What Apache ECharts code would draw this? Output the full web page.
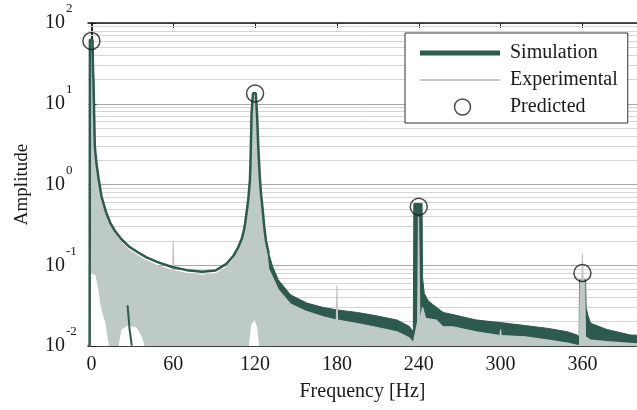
<!DOCTYPE html>
<html>
<head>
<meta charset="utf-8">
<script src="https://cdn.jsdelivr.net/npm/echarts@6/dist/echarts.min.js"></script>
<style>
html, body { margin: 0; padding: 0; background: #fff; }
#chart { width: 637px; height: 410px; }
</style>
</head>
<body>
<div id="chart"></div>
<script>
var xTicks = [0, 60, 120, 180, 240, 300, 360];
var minorDigits = [2, 3, 4, 5, 6, 7, 8, 9];
var decades = [0.01, 0.1, 1, 10];

// simulation, smooth part (0 Hz peak .. 120 Hz peak)
var simSmooth = [[-1.3, 0.0101], [-1.1, 62], [0.8, 62], [1.2, 25], [1.5, 19.6], [2, 7.6], [2.5, 2.94],
    [3.7, 1.83], [5.4, 1.14], [7.4, 0.71], [11, 0.44], [14, 0.33], [17, 0.27], [22, 0.21], [28, 0.168],
    [34, 0.145], [40, 0.126], [48, 0.11], [59, 0.095], [70, 0.087], [81, 0.083], [91, 0.086], [99, 0.104],
    [104, 0.13], [107.7, 0.168], [110.3, 0.215], [111.8, 0.27], [112.8, 0.34], [113.7, 0.44], [115.2, 0.7],
    [116.2, 1.14], [116.6, 1.8], [116.9, 2.94], [117.4, 7.6], [118.5, 13.5], [120.5, 13.5], [121.5, 7],
    [122.3, 3], [123.5, 1.2], [124.4, 0.75], [125.5, 0.5], [126.7, 0.3], [128, 0.2], [130, 0.14]];

// simulation, small drop near 28 Hz
var simLow = [[26.5, 0.032], [28, 0.016], [29.6, 0.0101]];

// simulation, noisy part: upper edge of the band
var simBand = [[128, 0.2], [130, 0.14], [133, 0.095], [137, 0.066], [146, 0.043], [158, 0.034], [170, 0.030],
    [180, 0.028], [195, 0.026], [207, 0.024], [224, 0.021], [233, 0.0175], [236, 0.015], [236.4, 0.58],
    [242.4, 0.58], [242.8, 0.07], [244, 0.045], [247, 0.036], [252, 0.031], [258, 0.026], [265, 0.0245],
    [282, 0.021], [300, 0.0195], [318, 0.0179], [335, 0.0165], [349, 0.015], [356, 0.0137], [357.6, 0.013],
    [357.9, 0.066], [362.3, 0.066], [362.7, 0.03], [364, 0.024], [366, 0.0191], [378, 0.016], [395, 0.0137],
    [402, 0.0135]];

// experimental spectrum (upper envelope)
var experimental = [[-1.0, 0.0101], [-0.9, 55], [0.6, 55], [1.2, 22], [1.5, 17], [2, 6.8], [2.5, 2.6],
    [3.7, 1.65], [5.4, 1.02], [7.4, 0.64], [11, 0.4], [14, 0.3], [17, 0.245], [22, 0.19], [28, 0.152],
    [34, 0.131], [40, 0.114], [48, 0.099], [59.5, 0.086], [60, 0.2], [60.5, 0.086], [70, 0.079],
    [81, 0.075], [91, 0.078], [99, 0.094], [104, 0.118], [107.7, 0.152], [110.3, 0.195], [111.8, 0.245],
    [112.8, 0.31], [113.7, 0.4], [115.3, 0.63], [116.3, 1.03], [116.7, 1.62], [117, 2.65], [117.5, 6.8],
    [118.7, 12], [120.3, 12], [121.4, 6.3], [122.2, 2.7], [123.4, 1.08], [124.3, 0.68], [125.4, 0.45],
    [126.6, 0.27], [128, 0.18], [130, 0.09], [133, 0.07], [137, 0.05], [146, 0.033], [158, 0.0266],
    [170, 0.023], [179.6, 0.021], [180, 0.056], [180.4, 0.021], [195, 0.019], [207, 0.0173], [224, 0.015],
    [233, 0.0126], [236, 0.0109], [239.2, 0.02], [239.8, 0.4], [240.2, 0.4], [240.8, 0.02], [242.8, 0.03],
    [245, 0.022], [252.7, 0.021], [257.6, 0.0173], [265, 0.0173], [282, 0.015], [299.6, 0.0135],
    [300, 0.016], [300.4, 0.0135], [318, 0.013], [335, 0.0118], [349, 0.0109], [356, 0.0102],
    [357.9, 0.0102], [358.3, 0.06], [359.6, 0.07], [360, 0.14], [360.4, 0.07], [361.7, 0.06],
    [362.2, 0.013], [366, 0.0118], [378, 0.0113], [395, 0.0108], [402, 0.0106]];

// lower edge of the experimental spectrum where it stays above the axis
var expGap = [[-1, 0.08], [3, 0.075], [5, 0.05], [7, 0.03], [10, 0.02], [13, 0.0101], [15, '-'],
    [20, 0.0101], [22, 0.016], [27, 0.018], [33, 0.017], [37, 0.013], [39, 0.0101], [80, '-'],
    [115.5, 0.0101], [117, 0.018], [119.5, 0.021], [121.5, 0.017], [123, 0.0101]];

var predicted = [[0, 60], [120, 13.4], [240, 0.53], [360, 0.08]];

var simColor = '#2d5a4e';
var expColor = '#c6c6c6';
var font = 'Liberation Serif';

// minor log grid lines (2..9 x each decade)
var minorGrid = [];
decades.forEach(function (d) {
    minorDigits.forEach(function (m) {
        minorGrid.push({ yAxis: +(d * m).toPrecision(3) });
    });
});

var myChart = echarts.init(document.getElementById('chart'));
myChart.setOption({
    animation: false,
    textStyle: { fontFamily: font },
    grid: { left: 88, top: 23, width: 555, height: 323 },
    legend: {
        orient: 'vertical',
        left: 405,
        top: 33,
        padding: [10, 10, 6, 15],
        backgroundColor: '#fff',
        borderColor: '#333',
        borderWidth: 1,
        borderRadius: 0,
        itemWidth: 85,
        itemHeight: 16,
        itemGap: 7,
        selectedMode: false,
        symbolKeepAspect: true,
        textStyle: { fontFamily: font, fontSize: 20, color: '#1a1a1a', lineHeight: 19 },
        data: [
            // icon paths leave a small gap before the text
            { name: 'Simulation', icon: 'path://M0,0H80V5H0ZM85,5', itemStyle: { color: simColor, borderWidth: 0 } },
            { name: 'Experimental', icon: 'path://M0,0H80V2H0ZM85,2', itemStyle: { color: expColor, borderWidth: 0 } },
            { name: 'Predicted', icon: 'circle', itemStyle: { borderWidth: 1.5, borderColor: '#1a1a1a', color: 'rgba(0,0,0,0)' } }
        ]
    },
    xAxis: [
        {
            type: 'value',
            min: -2.5,
            max: 400,
            name: 'Frequency [Hz]',
            nameLocation: 'middle',
            nameGap: 36,
            nameTextStyle: { fontFamily: font, fontSize: 20, color: '#1a1a1a' },
            axisLine: { lineStyle: { color: '#1a1a1a', width: 1.5 } },
            axisTick: { inside: true, length: 5, customValues: xTicks, lineStyle: { color: '#1a1a1a' } },
            axisLabel: { customValues: xTicks, margin: 9, fontFamily: font, fontSize: 20, color: '#1a1a1a' },
            splitLine: { show: false }
        },
        {
            type: 'value',
            position: 'top',
            min: -2.5,
            max: 400,
            axisLine: { onZero: false, lineStyle: { color: '#1a1a1a', width: 1.5 } },
            axisTick: { inside: true, length: 5, customValues: xTicks, lineStyle: { color: '#1a1a1a' } },
            axisLabel: { show: false },
            splitLine: { show: false }
        }
    ],
    yAxis: [
        {
            type: 'log',
            logBase: 10,
            min: 0.01,
            max: 100,
            name: 'Amplitude',
            nameLocation: 'middle',
            nameGap: 56,
            nameTextStyle: { fontFamily: font, fontSize: 19, color: '#1a1a1a' },
            axisLine: { show: true, lineStyle: { color: '#1a1a1a', width: 1.5 } },
            axisTick: { show: true, inside: true, length: 5, lineStyle: { color: '#1a1a1a' } },
            splitLine: { show: true, lineStyle: { color: '#a8a8a8', width: 1 } },
            axisLabel: {
                align: 'left',
                margin: 43,
                formatter: function (v) {
                    var e = Math.round(Math.log(v) / Math.LN10);
                    return '{b|10}{e|' + e + '}';
                },
                rich: {
                    b: { fontFamily: font, fontSize: 20, color: '#1a1a1a' },
                    e: { fontFamily: font, fontSize: 13, color: '#1a1a1a', lineHeight: 13, padding: [0, 0, 28, 1] }
                }
            }
        },
        {
            type: 'log',
            position: 'right',
            min: 0.01,
            max: 100,
            axisLine: { show: true, lineStyle: { color: '#1a1a1a', width: 1.5 } },
            axisTick: { show: false },
            axisLabel: { show: false },
            splitLine: { show: false }
        }
    ],
    series: [
        {
            name: 'Simulation',
            type: 'line',
            data: simSmooth,
            symbol: 'none',
            z: 5,
            lineStyle: { color: simColor, width: 2.5 },
            itemStyle: { color: simColor }
        },
        {
            name: 'Experimental',
            type: 'line',
            data: experimental,
            symbol: 'none',
            z: 3,
            lineStyle: { color: expColor, width: 1.2 },
            itemStyle: { color: expColor },
            areaStyle: { color: '#bdcac5', opacity: 1, origin: 0.01 }
        },
        {
            name: 'Predicted',
            type: 'scatter',
            data: predicted,
            symbol: 'circle',
            symbolSize: 17,
            z: 6,
            itemStyle: { color: 'rgba(0,0,0,0)', borderColor: '#1a1a1a', borderWidth: 1.5 }
        },
        {
            name: 'Simulation',
            type: 'line',
            data: simBand,
            symbol: 'none',
            z: 2,
            lineStyle: { color: simColor, width: 1 },
            areaStyle: { color: simColor, opacity: 1, origin: 0.01 }
        },
        {
            name: 'Simulation',
            type: 'line',
            data: simLow,
            symbol: 'none',
            z: 5,
            lineStyle: { color: simColor, width: 2 }
        },
        {
            name: 'gap',
            type: 'line',
            data: expGap,
            symbol: 'none',
            silent: true,
            z: 4,
            lineStyle: { width: 0 },
            areaStyle: { color: '#fff', opacity: 1, origin: 0.01 }
        },
        {
            name: 'grid',
            type: 'line',
            data: [[-10, 1]],
            symbol: 'none',
            silent: true,
            z: 1,
            lineStyle: { width: 0 },
            markLine: {
                silent: true,
                z: 1,
                symbol: 'none',
                label: { show: false },
                lineStyle: { color: '#d6d6d6', type: 'solid', width: 1 },
                data: minorGrid
            }
        }
    ]
});
</script>
</body>
</html>
